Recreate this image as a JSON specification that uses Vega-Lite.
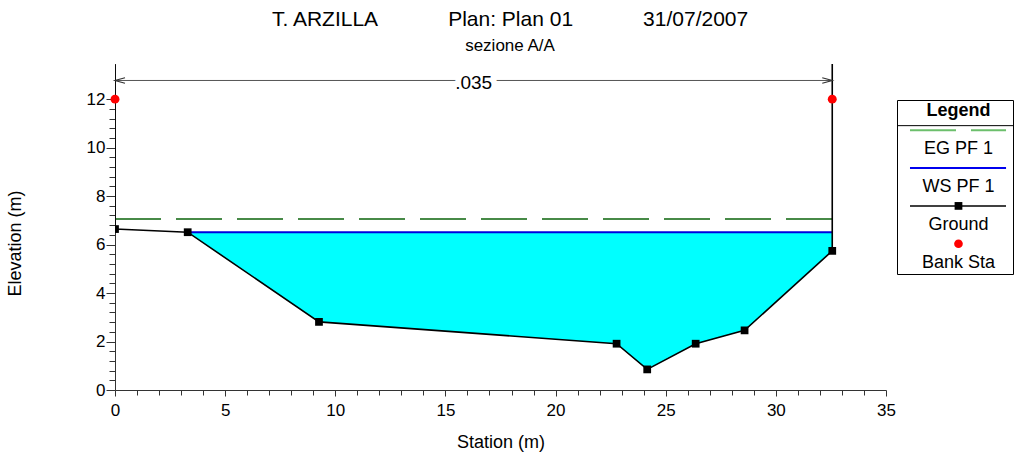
{
  "$schema": "https://vega.github.io/schema/vega-lite/v6.json",
  "background": "white",
  "padding": {"left": 6, "top": 9, "right": 0, "bottom": 2},
  "title": {
    "text": "T. ARZILLA\u00a0\u00a0\u00a0\u00a0\u00a0\u00a0\u00a0\u00a0\u00a0\u00a0\u00a0\u00a0Plan: Plan 01\u00a0\u00a0\u00a0\u00a0\u00a0\u00a0\u00a0\u00a0\u00a0\u00a0\u00a0\u00a031/07/2007",
    "subtitle": "sezione A/A",
    "font": "Liberation Sans",
    "subtitleFont": "Liberation Sans",
    "fontSize": 21,
    "fontWeight": "normal",
    "subtitleFontSize": 17,
    "color": "black",
    "subtitleColor": "black",
    "anchor": "middle",
    "offset": 10,
    "subtitlePadding": 8
  },
  "config": {
    "font": "Liberation Sans",
    "view": {"stroke": null},
    "axis": {
      "labelFont": "Liberation Sans",
      "titleFont": "Liberation Sans",
      "labelColor": "black",
      "titleColor": "black",
      "titleFontWeight": "normal",
      "labelFontSize": 17,
      "titleFontSize": 18,
      "domainColor": "#333333",
      "tickColor": "#333333",
      "grid": false
    }
  },
  "datasets": {
    "ground": [
      {"pt": 1, "station": 0, "elev": 14},
      {"pt": 2, "station": 0, "elev": 6.64},
      {"pt": 3, "station": 3.3, "elev": 6.51},
      {"pt": 4, "station": 9.26, "elev": 2.81},
      {"pt": 5, "station": 22.77, "elev": 1.91},
      {"pt": 6, "station": 24.16, "elev": 0.85},
      {"pt": 7, "station": 26.36, "elev": 1.91},
      {"pt": 8, "station": 28.58, "elev": 2.46},
      {"pt": 9, "station": 32.56, "elev": 5.74},
      {"pt": 10, "station": 32.56, "elev": 14}
    ],
    "banks": [
      {"side": "left", "station": 0, "elev": 12},
      {"side": "right", "station": 32.56, "elev": 12}
    ],
    "profiles": [
      {"profile": "EG PF 1", "elev": 7.06, "from": 0, "to": 32.56},
      {"profile": "WS PF 1", "elev": 6.51, "from": 3.3, "to": 32.56}
    ],
    "manning": [
      {"n": ".035", "from": 0, "to": 32.56, "mid": 16.28}
    ],
    "legend": [
      {"key": "eg", "series": "EG PF 1"},
      {"key": "ws", "series": "WS PF 1"},
      {"key": "ground", "series": "Ground"},
      {"key": "bank", "series": "Bank Sta"}
    ]
  },
  "align": "none",
  "spacing": 0,
  "hconcat": [
    {
      "width": 771,
      "height": 326,
      "layer": [
        {
          "data": {"name": "ground"},
          "transform": [{"filter": "datum.station >= 3.3 && datum.elev <= 6.51"}],
          "mark": {"type": "area", "color": "#00ffff", "opacity": 1},
          "encoding": {
            "x": {
              "field": "station",
              "type": "quantitative",
              "title": "Station (m)",
              "scale": {"domain": [0, 35], "nice": false, "zero": false},
              "axis": {
                "values": [0, 1, 2, 3, 4, 5, 6, 7, 8, 9, 10, 11, 12, 13, 14, 15, 16, 17, 18, 19, 20, 21, 22, 23, 24, 25, 26, 27, 28, 29, 30, 31, 32, 33, 34, 35],
                "tickCount": 100,
                "format": "~g",
                "labelExpr": "datum.value % 5 === 0 ? datum.label : ''",
                "tickSize": {"condition": {"test": "datum.value % 5 === 0", "value": 6}, "value": 5},
                "labelOverlap": false,
                "labelFlush": false,
                "labelPadding": 6,
                "titlePadding": 15
              }
            },
            "y": {
              "field": "elev",
              "type": "quantitative",
              "title": "Elevation (m)",
              "scale": {"domain": [0, 13.45], "nice": false, "zero": false},
              "axis": {
                "values": [0, 0.4, 0.8, 1.2, 1.6, 2, 2.4, 2.8, 3.2, 3.6, 4, 4.4, 4.8, 5.2, 5.6, 6, 6.4, 6.8, 7.2, 7.6, 8, 8.4, 8.8, 9.2, 9.6, 10, 10.4, 10.8, 11.2, 11.6, 12],
                "tickCount": 100,
                "format": "~g",
                "labelExpr": "abs(datum.value / 2 - round(datum.value / 2)) < 0.001 ? datum.label : ''",
                "tickSize": {"condition": {"test": "abs(datum.value / 2 - round(datum.value / 2)) < 0.001", "value": 9}, "value": 6},
                "labelOverlap": false,
                "labelFlush": false,
                "labelPadding": 1,
                "titlePadding": 62,
                "titleY": 179
              }
            },
            "y2": {"datum": 6.51}
          }
        },
        {
          "data": {"name": "profiles"},
          "transform": [{"filter": "datum.profile === 'EG PF 1'"}],
          "mark": {"type": "rule", "color": "#0b640b", "strokeWidth": 1.5, "strokeDash": [46, 15]},
          "encoding": {
            "x": {"field": "from", "type": "quantitative"},
            "x2": {"field": "to"},
            "y": {"field": "elev", "type": "quantitative"}
          }
        },
        {
          "data": {"name": "profiles"},
          "transform": [{"filter": "datum.profile === 'WS PF 1'"}],
          "mark": {"type": "rule", "color": "#0000dd", "strokeWidth": 2},
          "encoding": {
            "x": {"field": "from", "type": "quantitative"},
            "x2": {"field": "to"},
            "y": {"field": "elev", "type": "quantitative"}
          }
        },
        {
          "data": {"name": "ground"},
          "mark": {"type": "line", "color": "black", "strokeWidth": 1.6, "clip": true},
          "encoding": {
            "x": {"field": "station", "type": "quantitative"},
            "y": {"field": "elev", "type": "quantitative"},
            "order": {"field": "pt"}
          }
        },
        {
          "data": {"name": "ground"},
          "mark": {"type": "point", "shape": "square", "filled": true, "color": "black", "size": 60, "opacity": 1, "clip": true},
          "encoding": {
            "x": {"field": "station", "type": "quantitative"},
            "y": {"field": "elev", "type": "quantitative"}
          }
        },
        {
          "data": {"name": "banks"},
          "mark": {"type": "point", "shape": "circle", "filled": true, "color": "#ff0000", "size": 80, "opacity": 1},
          "encoding": {
            "x": {"field": "station", "type": "quantitative"},
            "y": {"field": "elev", "type": "quantitative"}
          }
        },
        {
          "data": {"name": "manning"},
          "mark": {"type": "rule", "color": "#555555", "strokeWidth": 1},
          "encoding": {
            "x": {"field": "from", "type": "quantitative"},
            "x2": {"field": "to"},
            "y": {"datum": 12.77}
          }
        },
        {
          "data": {"name": "manning"},
          "mark": {"type": "point", "shape": "M2,-0.55L0,0L2,0.55", "filled": false, "color": "#333333", "strokeWidth": 1.2, "size": 100, "opacity": 1},
          "encoding": {
            "x": {"field": "from", "type": "quantitative"},
            "y": {"datum": 12.77}
          }
        },
        {
          "data": {"name": "manning"},
          "mark": {"type": "point", "shape": "M-2,-0.55L0,0L-2,0.55", "filled": false, "color": "#333333", "strokeWidth": 1.2, "size": 100, "opacity": 1},
          "encoding": {
            "x": {"field": "to", "type": "quantitative"},
            "y": {"datum": 12.77}
          }
        },
        {
          "data": {"name": "manning"},
          "mark": {"type": "text", "fontSize": 19, "fill": "white", "stroke": "white", "strokeWidth": 12, "baseline": "middle", "dy": 3},
          "encoding": {
            "x": {"field": "mid", "type": "quantitative"},
            "y": {"datum": 12.77},
            "text": {"field": "n"}
          }
        },
        {
          "data": {"name": "manning"},
          "mark": {"type": "text", "fontSize": 19, "color": "black", "baseline": "middle", "dy": 3},
          "encoding": {
            "x": {"field": "mid", "type": "quantitative"},
            "y": {"datum": 12.77},
            "text": {"field": "n"}
          }
        }
      ]
    },
    {
      "spacing": 0,
      "vconcat": [
        {
          "width": 116,
          "height": 35,
          "data": {"values": []},
          "mark": {"type": "text"}
        },
        {
          "width": 116,
          "height": 174,
          "view": {"stroke": "black", "strokeWidth": 1},
          "data": {"name": "legend"},
          "layer": [
            {
              "data": {"values": [{"heading": "Legend"}]},
              "mark": {"type": "text", "fontSize": 18, "fontWeight": "bold", "color": "black", "baseline": "middle"},
              "encoding": {
                "x": {"datum": 0.53, "type": "quantitative", "scale": {"domain": [0, 1]}, "axis": null},
                "y": {
                  "field": "heading",
                  "type": "nominal",
                  "scale": {"type": "point", "domain": ["Legend", "eg", "EG PF 1", "ws", "WS PF 1", "ground", "Ground", "bank", "Bank Sta"], "padding": 0.6},
                  "axis": null
                },
                "text": {"field": "heading"}
              }
            },
            {
              "data": {"values": [{"heading": "Legend"}]},
              "mark": {"type": "rule", "color": "black", "strokeWidth": 1, "yOffset": 14.3},
              "encoding": {
                "x": {"datum": 0, "type": "quantitative"},
                "x2": {"datum": 1},
                "y": {"field": "heading", "type": "nominal"}
              }
            },
            {
              "transform": [{"filter": "datum.key === 'eg'"}],
              "mark": {"type": "rule", "color": "#6cbf6c", "strokeWidth": 2, "strokeDash": [46, 15]},
              "encoding": {
                "x": {"datum": 0.112, "type": "quantitative"},
                "x2": {"datum": 0.94},
                "y": {"field": "key", "type": "nominal"}
              }
            },
            {
              "transform": [{"filter": "datum.key === 'ws'"}],
              "mark": {"type": "rule", "color": "#0000ee", "strokeWidth": 2},
              "encoding": {
                "x": {"datum": 0.112, "type": "quantitative"},
                "x2": {"datum": 0.94},
                "y": {"field": "key", "type": "nominal"}
              }
            },
            {
              "transform": [{"filter": "datum.key === 'ground'"}],
              "mark": {"type": "rule", "color": "black", "strokeWidth": 1.5},
              "encoding": {
                "x": {"datum": 0.112, "type": "quantitative"},
                "x2": {"datum": 0.94},
                "y": {"field": "key", "type": "nominal"}
              }
            },
            {
              "transform": [{"filter": "datum.key === 'ground'"}],
              "mark": {"type": "point", "shape": "square", "filled": true, "color": "black", "size": 60, "opacity": 1},
              "encoding": {
                "x": {"datum": 0.53, "type": "quantitative"},
                "y": {"field": "key", "type": "nominal"}
              }
            },
            {
              "transform": [{"filter": "datum.key === 'bank'"}],
              "mark": {"type": "point", "shape": "circle", "filled": true, "color": "#ff0000", "size": 75, "opacity": 1},
              "encoding": {
                "x": {"datum": 0.53, "type": "quantitative"},
                "y": {"field": "key", "type": "nominal"}
              }
            },
            {
              "mark": {"type": "text", "fontSize": 18, "color": "black", "baseline": "middle"},
              "encoding": {
                "x": {"datum": 0.53, "type": "quantitative"},
                "y": {"field": "series", "type": "nominal"},
                "text": {"field": "series"}
              }
            }
          ]
        }
      ]
    }
  ]
}
